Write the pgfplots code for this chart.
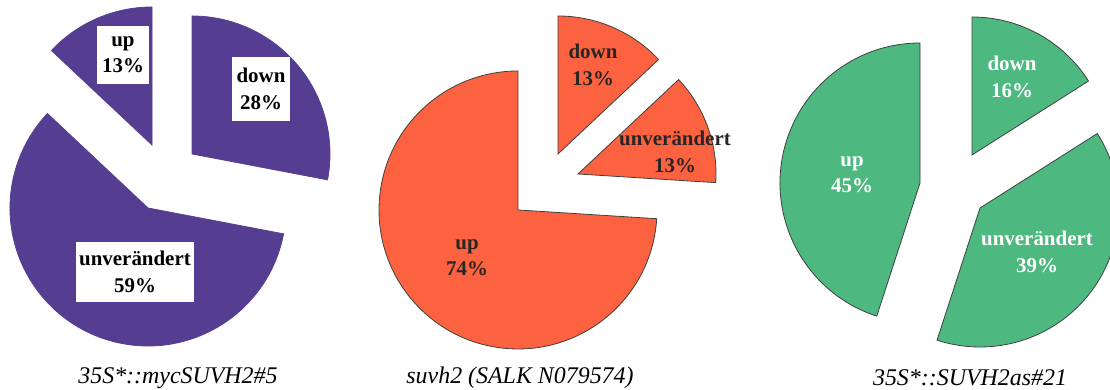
\documentclass[border=0pt]{standalone}
\usepackage{pgfplots}
\pgfplotsset{compat=1.18}
\usepackage{fontspec}
\setmainfont{Liberation Serif}
\definecolor{cpurple}{HTML}{553E92}
\definecolor{corange}{HTML}{FC6240}
\definecolor{cgreen}{HTML}{4DB880}
\definecolor{cedge}{HTML}{404040}
% \slice{apex x}{apex y}{cumulative % before}{% of slice}{radius px}{fill}{edge}
\newcommand{\slice}[7]{%
  \pgfmathsetmacro{\aA}{90-3.6*#3}%
  \pgfmathsetmacro{\aB}{90-3.6*(#3+#4)}%
  \pgfmathsetmacro{\rr}{0.5*#5}%
  \edef\doslice{\noexpand\fill[#6, draw=#7, line width=0.4bp] (axis cs:#1,#2) -- ++(\aA:\rr bp)
     arc[start angle=\aA, end angle=\aB, radius=\rr bp] -- cycle;}%
  \doslice}
\begin{document}
\begin{tikzpicture}
\begin{axis}[
  width=555bp, height=195bp, scale only axis,
  xmin=0, xmax=1110, ymin=0, ymax=390,
  hide axis, clip=true,
]
\path (axis cs:0,0) rectangle (axis cs:1110,390);
% ---- Pie 1: 35S*::mycSUVH2#5 (down 28, unverändert 59, up 13)
\slice{192}{236}{0}{28}{138}{cpurple}{cpurple}
\slice{148}{182}{28}{59}{138}{cpurple}{cpurple}
\slice{152}{245}{87}{13}{138}{cpurple}{cpurple}
% ---- Pie 2: suvh2 (down 13, unverändert 13, up 74)
\slice{558}{236}{0}{13}{138}{corange}{cedge}
\slice{578}{216}{13}{13}{138}{corange}{cedge}
\slice{518}{180}{26}{74}{139}{corange}{cedge}
% ---- Pie 3: 35S*::SUVH2as#21 (down 16, unverändert 39, up 45)
\slice{972}{235}{0}{16}{138}{cgreen}{cedge}
\slice{980}{182}{16}{39}{139}{cgreen}{cedge}
\slice{920}{207}{55}{45}{140}{cgreen}{cedge}
% labels
\begin{scope}[every node/.style={font=\fontsize{10.5}{13.2}\selectfont\bfseries, align=center}]
\node[fill=white, inner xsep=2.5bp, inner ysep=5.5bp] at (axis cs:123,335) {up\\13\%};
\node[fill=white, inner xsep=2.5bp, inner ysep=5.5bp] at (axis cs:261,301) {down\\28\%};
\node[fill=white, inner xsep=1.8bp, inner ysep=4.5bp] at (axis cs:135,118) {unverändert\\59\%};
\node[text=black!85] at (axis cs:593,325) {down\\13\%};
\node[text=black!85] at (axis cs:675,238) {unverändert\\13\%};
\node[text=black!85] at (axis cs:467,132) {up\\74\%};
\node[text=white] at (axis cs:1012,313) {down\\16\%};
\node[text=white] at (axis cs:852,215) {up\\45\%};
\node[text=white] at (axis cs:1037,138) {unverändert\\39\%};
\end{scope}
\begin{scope}[every node/.style={font=\fontsize{12}{14}\selectfont\itshape}]
\node at (axis cs:178,12) {35S*::mycSUVH2\#5};
\node at (axis cs:520,12) {suvh2 (SALK N079574)};
\node at (axis cs:970,12) {35S*::SUVH2as\#21};
\end{scope}
\end{axis}
\end{tikzpicture}
\end{document}
